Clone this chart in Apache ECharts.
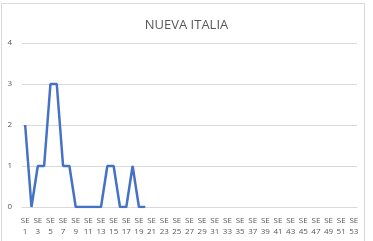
<!DOCTYPE html>
<html><head><meta charset="utf-8">
<script src="https://cdn.jsdelivr.net/npm/echarts@6/dist/echarts.min.js"></script>
<style>html,body{margin:0;padding:0;background:#fff}#c{width:373px;height:241px}</style>
</head><body><div id="c"></div>
<script>
const weeks = [];
for (let i = 1; i <= 53; i++) weeks.push('SE ' + i);
const values = [2,0,1,1,3,3,1,1,0,0,0,0,0,1,1,0,0,1,0,0];
const yTicks = [0,1,2,3,4];
const title = 'NUEVA ITALIA';

const chart = echarts.init(document.getElementById('c'), null, {renderer:'canvas'});
chart.setOption({
  animation:false,
  backgroundColor:'#fff',
  graphic:[{type:'rect',shape:{x:1.5,y:3.5,width:363,height:245},style:{fill:'none',stroke:'#d9d9d9',lineWidth:1},silent:true}],
  title:{text:title,left:'center',top:14,textStyle:{fontFamily:'Open Sans',fontSize:13,fontWeight:'normal',color:'#595959'}},
  grid:{left:22,right:16,top:43,bottom:34,containLabel:false},
  xAxis:{type:'category',data:weeks,boundaryGap:true,
    axisLine:{lineStyle:{color:'#d9d9d9'}},axisTick:{show:false},
    axisLabel:{interval:1,margin:8,fontFamily:'Open Sans',fontSize:8,color:'#595959',lineHeight:11,
      formatter:v=>v.replace(' ','\n')}},
  yAxis:{type:'value',min:0,max:4,interval:1,
    axisLine:{show:false},axisTick:{show:false},
    splitLine:{lineStyle:{color:'#d9d9d9',width:1}},
    axisLabel:{margin:10,fontFamily:'Open Sans',fontSize:8,color:'#595959',
      formatter:v=>yTicks.includes(v)?String(v):''}},
  series:[{type:'line',data:values,symbol:'none',lineStyle:{color:'#4472C4',width:2.5},itemStyle:{color:'#4472C4'}}]
});
</script></body></html>
